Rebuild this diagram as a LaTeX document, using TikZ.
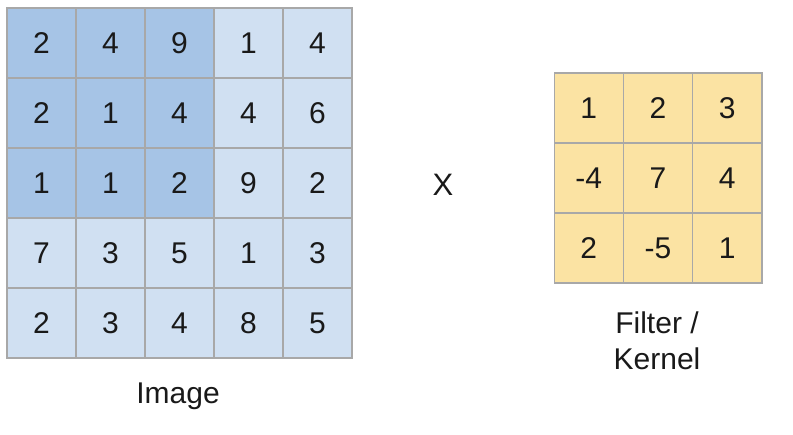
\documentclass[tikz,border=0pt]{standalone}
\usepackage{fontspec}
\setmainfont{Liberation Sans}
\definecolor{darkcell}{HTML}{A6C4E6}
\definecolor{lightcell}{HTML}{D0E0F2}
\definecolor{yellowcell}{HTML}{FBE3A3}
\definecolor{gridgray}{HTML}{A8A8A8}
\tikzset{
  cellbox/.style={draw=gridgray, line width=1.1pt, minimum width=69pt, minimum height=70pt, inner sep=0pt, font=\fontsize{30}{32}\selectfont, text=black!90},
  lbl/.style={font=\fontsize{30}{36}\selectfont, align=center, text=black!90}
}
\begin{document}
\begin{tikzpicture}[x=1pt,y=-1pt]
\useasboundingbox (0,0) rectangle (793,435);
% Image grid
\foreach \row [count=\i from 0] in {{2,4,9,1,4},{2,1,4,4,6},{1,1,2,9,2},{7,3,5,1,3},{2,3,4,8,5}}{
  \foreach \v [count=\j from 0] in \row {
    \pgfmathsetmacro{\cx}{7+34.5+69*\j}
    \pgfmathsetmacro{\cy}{8+35+70*\i}
    \pgfmathtruncatemacro{\dk}{(\i<3)&&(\j<3)}
    \ifnum\dk=1
      \node[cellbox, fill=darkcell] (img-\i-\j) at (\cx,\cy) {\v};
    \else
      \node[cellbox, fill=lightcell] (img-\i-\j) at (\cx,\cy) {\v};
    \fi
  }
}
% Filter grid
\foreach \row [count=\i from 0] in {{1,2,3},{-4,7,4},{2,-5,1}}{
  \foreach \v [count=\j from 0] in \row {
    \pgfmathsetmacro{\cx}{554+34.7+69.3*\j}
    \pgfmathsetmacro{\cy}{73+35+70*\i}
    \node[cellbox, fill=yellowcell, minimum width=69.3pt] (flt-\i-\j) at (\cx,\cy) {\v};
  }
}
\node[font=\fontsize{31}{31}\selectfont, text=black!90] (times) at (443,185) {X};
\node[lbl] (imglabel) at (178,396) {Image};
\node[lbl] (fltlabel) at (657,341) {Filter /\\Kernel};
\end{tikzpicture}
\end{document}
